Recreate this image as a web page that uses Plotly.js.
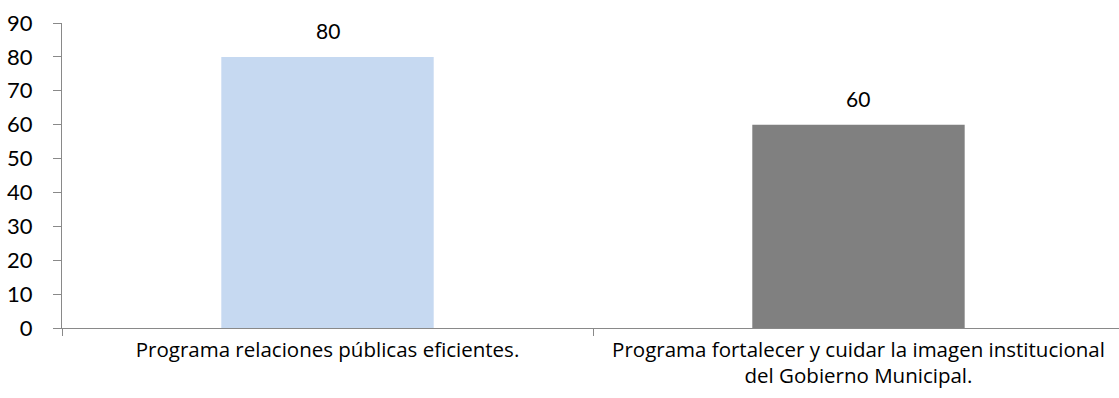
<!DOCTYPE html>
<html>
<head>
<meta charset="utf-8">
<script src="https://cdn.plot.ly/plotly-3.0.1.min.js"></script>
<style>html,body{margin:0;padding:0;background:#fff;}#chart{width:1119px;height:398px;}</style>
</head>
<body>
<div id="chart"></div>
<script>
const categories = ["Programa relaciones públicas eficientes.", "Programa fortalecer y cuidar la imagen institucional<br>del Gobierno Municipal."];
const values = [80, 60];
const barColors = ["#C6D9F1", "#808080"];
const yTickVals = [0, 10, 20, 30, 40, 50, 60, 70, 80, 90];

const FONT = "Lato, 'Open Sans', sans-serif";
const XFONT = "'Open Sans', Lato, sans-serif";

const trace = {
  type: "bar",
  x: categories,
  y: values,
  marker: { color: barColors, line: { width: 0 } },
  width: 0.4,
  hoverinfo: "none"
};

const annotations = categories.map((c, i) => ({
  x: c, y: values[i], xref: "x", yref: "y",
  text: String(values[i]), showarrow: false,
  yanchor: "bottom", yshift: 12,
  font: { family: FONT, size: 21, color: "#000" }
}));

const layout = {
  width: 1119, height: 398,
  margin: { l: 62, r: 0, t: 23, b: 70 },
  paper_bgcolor: "#fff", plot_bgcolor: "#fff",
  showlegend: false,
  font: { family: FONT, color: "#000" },
  xaxis: {
    type: "category",
    range: [-0.5, 1.4906],
    showline: true, linecolor: "#898989", linewidth: 1,
    ticks: "outside", tickson: "boundaries", ticklen: 7, tickcolor: "#898989", tickwidth: 1,
    showgrid: false, zeroline: false,
    tickfont: { family: XFONT, size: 20.5, color: "#000" },
    ticklabelstandoff: 3
  },
  yaxis: {
    range: [0, 90],
    tickvals: yTickVals,
    showline: true, linecolor: "#898989", linewidth: 1,
    ticks: "outside", ticklen: 8, tickcolor: "#898989", tickwidth: 1,
    showgrid: false, zeroline: false,
    tickfont: { family: FONT, size: 22, color: "#000" },
    ticklabelstandoff: 16
  },
  annotations: annotations
};

Plotly.newPlot("chart", [trace], layout, { staticPlot: true, displayModeBar: false });
</script>
</body>
</html>
